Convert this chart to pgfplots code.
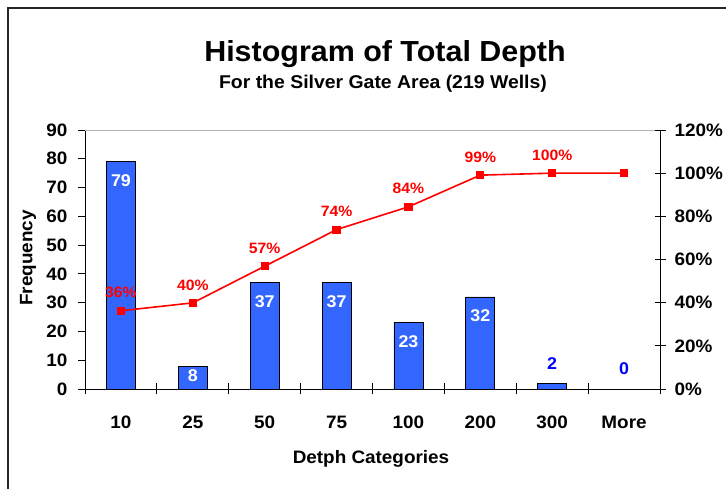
\documentclass[border=0pt]{standalone}
\usepackage{fontspec}
\setmainfont{Liberation Sans}[FakeStretch=1.05]
\usepackage{pgfplots}
\pgfplotsset{compat=1.18}
\definecolor{barblue}{RGB}{51,102,255}
\definecolor{lblblue}{RGB}{0,0,255}
\newcommand{\fs}[1]{\fontsize{#1bp}{#1bp}\selectfont\bfseries}
\pgfplotsset{/pgf/number format/assume math mode=true}
\begin{document}
\begin{tikzpicture}
\useasboundingbox (0,0) rectangle (726bp,489bp);
\draw[line width=2bp, black!85] (8bp,0) -- (8bp,481bp) -- (726bp,481bp);
\node[anchor=base, font=\fs{29}] at (385bp,427bp) {Histogram of Total Depth};
\node[anchor=base, font=\fs{18.5}] at (383bp,400bp) {For the Silver Gate Area (219 Wells)};
\node[rotate=90, font=\fs{18}] at (28bp,231bp) {Frequency};
\node[anchor=base, font=\fs{18}] at (371bp,26bp) {Detph Categories};

\begin{axis}[
  at={(85bp,100bp)}, anchor=south west, scale only axis,
  width=575bp, height=259bp,
  xmin=-0.5, xmax=7.5, ymin=0, ymax=90,
  axis x line*=bottom, axis y line*=left,
  axis line style={line width=0.8bp, black, -},
  tick align=center,
  xtick={0,...,7}, xticklabels={10,25,50,75,100,200,300,More},
  major x tick style={draw=none},
  minor xtick={-0.5,0.5,...,7.5},
  minor tick length=11bp,
  every minor x tick/.append style={black, line width=0.8bp},
  ytick={0,10,...,90},
  major tick length=7bp,
  every major y tick/.append style={black, line width=0.8bp, xshift=-3.5bp},
  xticklabel style={anchor=base, yshift=-36bp, font=\fs{18}},
  yticklabel style={anchor=east, inner sep=0pt, xshift=-14bp, font=\fs{18}},
  clip=false,
]
\draw[gray!60, line width=0.8bp] (rel axis cs:0,1) -- (rel axis cs:1,1);
\addplot[ybar, bar width=29bp, bar shift=0pt, fill=barblue, draw=black, line width=0.8bp,
  nodes near coords,
  nodes near coords style={white, anchor=center, yshift=-19bp, font=\fs{17}}]
  coordinates {(0,79)(2,37)(3,37)(4,23)(5,32)};
\addplot[ybar, bar width=29bp, bar shift=0pt, fill=barblue, draw=black, line width=0.8bp,
  nodes near coords,
  nodes near coords style={white, anchor=center, yshift=-10bp, font=\fs{17}}]
  coordinates {(1,8)};
\addplot[ybar, bar width=29bp, bar shift=0pt, fill=barblue, draw=black, line width=0.8bp]
  coordinates {(6,2)};
\addplot[draw=none, nodes near coords,
  nodes near coords style={lblblue, anchor=center, yshift=20bp, font=\fs{17}}]
  coordinates {(6,2)(7,0)};
\end{axis}

\begin{axis}[
  at={(85bp,100bp)}, anchor=south west, scale only axis,
  width=575bp, height=259bp,
  xmin=-0.5, xmax=7.5, ymin=0, ymax=120,
  axis x line=none, axis y line*=right,
  axis line style={line width=0.8bp, black, -},
  tick align=center,
  ytick={0,20,...,120},
  major tick length=11bp,
  every major y tick/.append style={black, line width=0.8bp},
  yticklabel={\pgfmathprintnumber{\tick}\%},
  yticklabel style={anchor=west, inner sep=0pt, xshift=9bp, font=\fs{18}},
  clip=false,
]
\addplot[red, line width=1.6bp, mark=square*, mark size=3.3bp,
  mark options={solid, fill=red},
  point meta=explicit symbolic,
  nodes near coords,
  nodes near coords style={red, anchor=center, yshift=18bp, font=\fs{15}}]
  coordinates {(0,36.24)[36\%] (1,39.91)[40\%] (2,56.88)[57\%] (3,73.85)[74\%]
               (4,84.40)[84\%] (5,99.08)[99\%] (6,100)[100\%] (7,100)[{}]};
\end{axis}
\end{tikzpicture}
\end{document}
